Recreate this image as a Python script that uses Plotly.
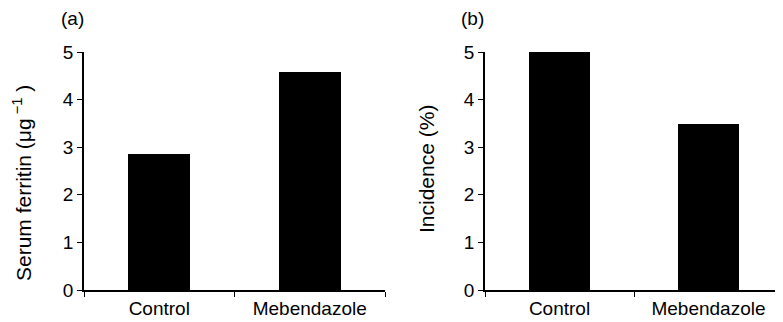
import plotly.graph_objects as go

categories = ["Control", "Mebendazole"]
ferritin = [2.86, 4.58]
incidence = [5.0, 3.48]
y_ticks = [0, 1, 2, 3, 4, 5]

# page body has an 8px default margin; figure is sized to fit the 783x322 window
OFF = 8
W, H = 783 - OFF, 322 - OFF
FONT = "Liberation Sans, Arial, sans-serif"

fig = go.Figure()
fig.add_trace(go.Bar(x=categories, y=ferritin, marker=dict(color="black", line=dict(width=0)),
                     width=0.41, xaxis="x", yaxis="y"))
fig.add_trace(go.Bar(x=categories, y=incidence, marker=dict(color="black", line=dict(width=0)),
                     width=0.41, xaxis="x2", yaxis="y2"))

def px(v):
    return (v - OFF) / W

def py(v):
    return (H - (v - OFF)) / H

ydom = [py(290), py(52)]
common_x = dict(showline=True, linecolor="black", linewidth=1.6, ticks="outside",
                tickson="boundaries", ticklen=5, tickwidth=1.4, tickcolor="black",
                showgrid=False, zeroline=False, range=[-0.5, 1.5], automargin=False,
                tickfont=dict(family=FONT, size=19, color="black"), fixedrange=True)
common_y = dict(showline=True, linecolor="black", linewidth=1.6, ticks="outside",
                ticklen=5, tickwidth=1.4, tickcolor="black", showgrid=False,
                zeroline=False, range=[0, 5], tickvals=y_ticks, automargin=False,
                tickfont=dict(family=FONT, size=19, color="black"), domain=ydom)

fig.update_layout(
    width=W, height=H,
    margin=dict(l=0, r=0, t=0, b=0, autoexpand=False),
    paper_bgcolor="white", plot_bgcolor="white",
    showlegend=False, bargap=0,
    font=dict(family=FONT, color="black"),
    xaxis=dict(domain=[px(84), px(385)], anchor="y", **common_x),
    yaxis=dict(anchor="x", **common_y),
    xaxis2=dict(domain=[px(485), 1.0], anchor="y2", **common_x),
    yaxis2=dict(anchor="x2", **common_y),
    annotations=[
        dict(text="(a)", x=px(72), y=py(19), xref="paper", yref="paper", showarrow=False,
             font=dict(size=19, family=FONT), xanchor="center", yanchor="middle"),
        dict(text="(b)", x=px(472), y=py(19), xref="paper", yref="paper", showarrow=False,
             font=dict(size=19, family=FONT), xanchor="center", yanchor="middle"),
        dict(text="Serum ferritin (μg<sup> −1</sup> )", x=px(22), y=py(183), xref="paper", yref="paper",
             showarrow=False, textangle=-90, font=dict(size=21, family=FONT),
             xanchor="center", yanchor="middle"),
        dict(text="Incidence (%)", x=px(426), y=py(169), xref="paper", yref="paper",
             showarrow=False, textangle=-90, font=dict(size=21, family=FONT),
             xanchor="center", yanchor="middle"),
    ],
)

fig.write_html("out.html")
